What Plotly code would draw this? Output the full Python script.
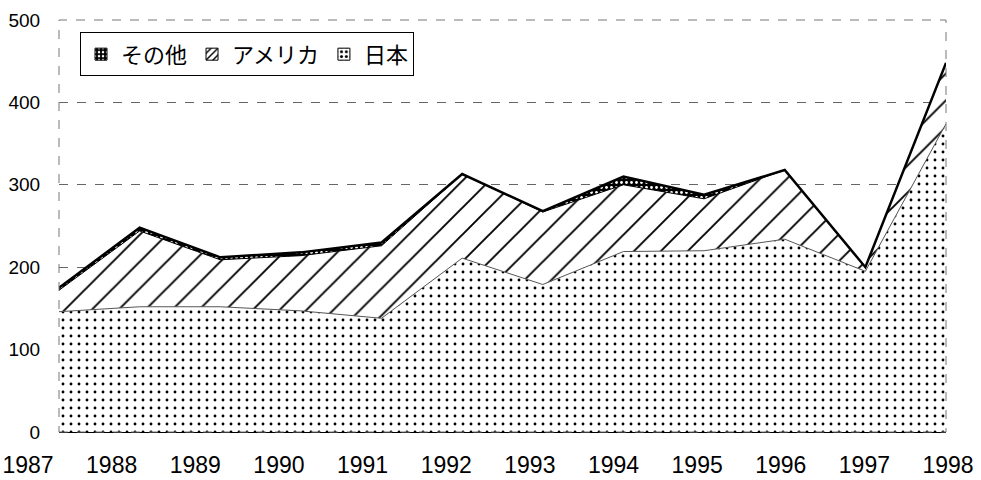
import plotly.graph_objects as go

# 年度別データ（積み上げ面グラフ）
years = [1987, 1988, 1989, 1990, 1991, 1992, 1993, 1994, 1995, 1996, 1997, 1998]
japan = [146, 152, 152, 147, 138, 211, 179, 219, 220, 234, 195, 374]
america = [26, 92, 57, 67, 88, 102, 88, 81, 63, 84, 5, 74]
other = [3, 4, 3, 4, 4, 0, 1, 10, 5, 0, 0, 0]

y_ticks = [0, 100, 200, 300, 400, 500]

jp_font = "Noto Sans CJK JP"
num_font = "Liberation Sans, Arial, sans-serif"

pat_japan = dict(shape=".", size=8, solidity=0.1, fgcolor="black", bgcolor="white",
                 fgopacity=1, fillmode="replace")
pat_america = dict(shape="/", size=19, solidity=0.1, fgcolor="black", bgcolor="white",
                   fgopacity=1, fillmode="replace")
pat_other = dict(shape=".", size=5, solidity=0.25, fgcolor="white", bgcolor="black",
                 fgopacity=1, fillmode="replace")

fig = go.Figure()

fig.add_trace(go.Scatter(
    x=years, y=japan, name="日本", stackgroup="one", mode="lines",
    line=dict(color="#555555", width=1), fillcolor="white",
    fillpattern=pat_japan, showlegend=False,
))
fig.add_trace(go.Scatter(
    x=years, y=america, name="アメリカ", stackgroup="one", mode="lines",
    line=dict(color="black", width=1), fillcolor="white",
    fillpattern=pat_america, showlegend=False,
))
fig.add_trace(go.Scatter(
    x=years, y=other, name="その他", stackgroup="one", mode="lines",
    line=dict(color="black", width=2.5), fillcolor="black",
    fillpattern=pat_other, showlegend=False,
))

# 凡例用（四角いアイコン）; 年ラベル用の軸 x2/y2 に載せる
for name, pat in [("その他", pat_other), ("アメリカ", pat_america), ("日本", pat_japan)]:
    fig.add_trace(go.Bar(
        x=[None], y=[None], name=name, xaxis="x2", yaxis="y2",
        marker=dict(color=pat["bgcolor"], line=dict(color="black", width=1),
                    pattern=dict(shape=pat["shape"], size=min(pat["size"], 6),
                                 solidity=0.3, fgcolor=pat["fgcolor"], bgcolor=pat["bgcolor"],
                                 fgopacity=1)),
    ))

# 枠線（点線）
fig.add_shape(type="rect", xref="x domain", yref="y domain", x0=0, y0=0, x1=1, y1=1,
              line=dict(color="#777777", width=1, dash="dash"), layer="above")

fig.update_layout(
    width=981, height=480,
    margin=dict(l=0, r=0, t=20, b=48),
    plot_bgcolor="rgba(0,0,0,0)", paper_bgcolor="white",
    font=dict(family=num_font, color="black"),
    showlegend=True,
    legend=dict(
        orientation="h", traceorder="normal",
        x=80 / 981, y=0.97, xanchor="left", yanchor="top",
        bordercolor="black", borderwidth=1, bgcolor="white",
        font=dict(family=jp_font, size=22, color="black"),
    ),
    xaxis=dict(
        domain=[59 / 981, 946 / 981],
        range=[1987, 1998], tickvals=years, showticklabels=False,
        showgrid=False, zeroline=False, showline=True, linecolor="black", linewidth=1,
        ticks="", automargin=False,
    ),
    # 年ラベルは元図に合わせて少し広い間隔で配置
    xaxis2=dict(
        domain=[0, 1], anchor="y2",
        range=[1986.665, 1998.394], tickvals=years, ticktext=[str(y) for y in years],
        showgrid=False, zeroline=False, showline=False,
        ticks="outside", ticklen=12, tickcolor="rgba(0,0,0,0)",
        tickfont=dict(size=23, family=num_font), automargin=False,
    ),
    yaxis=dict(
        range=[0, 500], tickvals=y_ticks, showgrid=True,
        gridcolor="#666666", gridwidth=1, griddash="dash",
        zeroline=False, showline=False,
        ticks="outside", ticklen=14, tickcolor="rgba(0,0,0,0)",
        tickfont=dict(size=19, family=num_font), automargin=False,
    ),
    yaxis2=dict(
        range=[0, 500], visible=False, showgrid=False, zeroline=False,
    ),
)

fig.write_html("out.html", config={"displayModeBar": False},
               post_script="document.body.style.margin='0';")
